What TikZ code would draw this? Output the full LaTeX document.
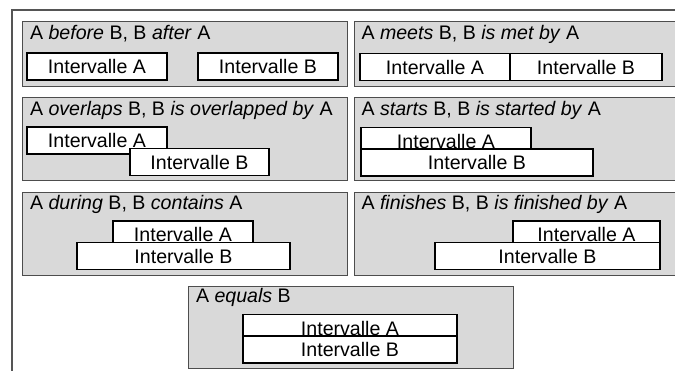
\documentclass[tikz,border=0pt]{standalone}
\usepackage{fontspec}
\setmainfont{Liberation Sans}
\definecolor{panelfill}{HTML}{D9D9D9}
\definecolor{panelline}{HTML}{4D4D4D}
\definecolor{outerline}{HTML}{555555}
\begin{document}
\begin{tikzpicture}[x=1pt,y=-1pt,
  every node/.style={font=\fontsize{19.6pt}{23pt}\selectfont, inner sep=0pt, outer sep=0pt},
  panel/.style={draw=panelline, fill=panelfill, line width=1pt, anchor=north west, rectangle},
  ibox/.style={draw=black, fill=white, line width=1.8pt, rectangle, minimum height=27pt, text=black},
  ttl/.style={anchor=base west},
  outer/.style={draw=outerline, line width=1.1pt}]
\useasboundingbox (0,0) rectangle (675,370);
\draw[outer] (12,371) -- (12,10) -- (676,10);

% Row 1 left: before
\node[panel, minimum width=325pt, minimum height=65pt] (p1) at (22,21) {};
\node[ttl] (t1) at (30,39.5) {A \textit{before} B, B \textit{after} A};
\node[ibox, minimum width=140pt] (a1) at (97,66.5) {Intervalle A};
\node[ibox, minimum width=140pt] (b1) at (268,66.5) {Intervalle B};

% Row 1 right: meets
\node[panel, minimum width=330pt, minimum height=65pt] (p2) at (354,21) {};
\node[ttl] (t2) at (361.5,39.5) {A \textit{meets} B, B \textit{is met by} A};
\node[ibox, minimum width=150pt] (a2) at (435,67) {Intervalle A};
\node[ibox, minimum width=152pt] (b2) at (586,67) {Intervalle B};

% Row 2 left: overlaps
\node[panel, minimum width=325pt, minimum height=83pt] (p3) at (22,97) {};
\node[ttl] (t3) at (30,115) {A \textit{overlaps} B, B \textit{is overlapped by} A};
\node[ibox, minimum width=140pt] (a3) at (97,140.5) {Intervalle A};
\node[ibox, minimum width=139pt] (b3) at (199.5,162) {Intervalle B};

% Row 2 right: starts
\node[panel, minimum width=330pt, minimum height=83pt] (p4) at (354,97) {};
\node[ttl] (t4) at (361.5,115) {A \textit{starts} B, B \textit{is started by} A};
\node[ibox, minimum width=170pt] (a4) at (446,141) {Intervalle A};
\node[ibox, minimum width=232pt] (b4) at (477,162.5) {Intervalle B};

% Row 3 left: during
\node[panel, minimum width=325pt, minimum height=83pt] (p5) at (22,192) {};
\node[ttl] (t5) at (30,209.5) {A \textit{during} B, B \textit{contains} A};
\node[ibox, minimum width=140pt] (a5) at (183,234.5) {Intervalle A};
\node[ibox, minimum width=213pt] (b5) at (183.5,256) {Intervalle B};

% Row 3 right: finishes
\node[panel, minimum width=330pt, minimum height=83pt] (p6) at (354,192) {};
\node[ttl] (t6) at (361.5,209.5) {A \textit{finishes} B, B \textit{is finished by} A};
\node[ibox, minimum width=147pt] (a6) at (586.5,234.5) {Intervalle A};
\node[ibox, minimum width=225pt] (b6) at (547.5,256) {Intervalle B};

% Row 4: equals
\node[panel, minimum width=325pt, minimum height=82pt] (p7) at (188,286) {};
\node[ttl] (t7) at (196,302.5) {A \textit{equals} B};
\node[ibox, minimum width=214pt] (a7) at (350,328) {Intervalle A};
\node[ibox, minimum width=214pt] (b7) at (350,349.5) {Intervalle B};
\end{tikzpicture}
\end{document}
